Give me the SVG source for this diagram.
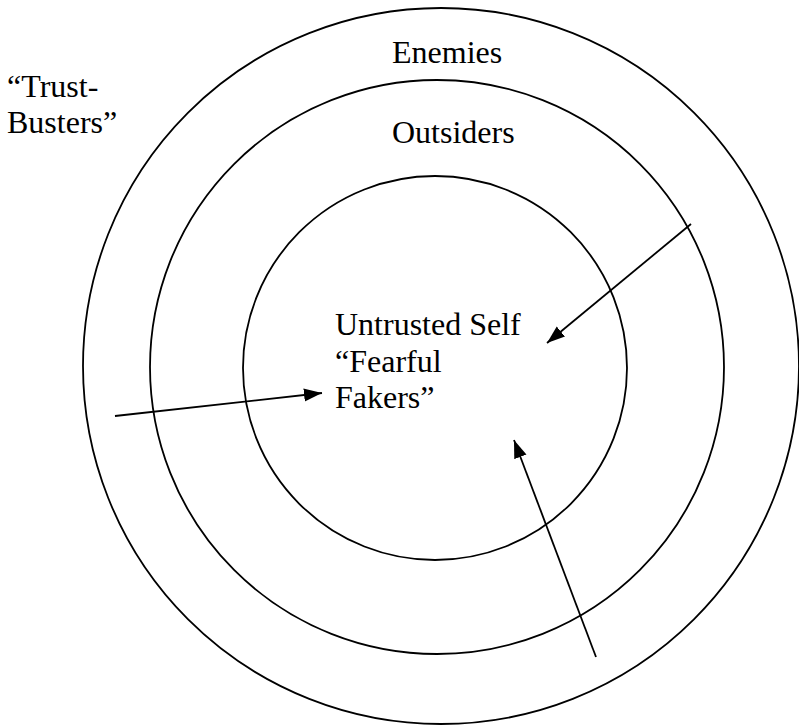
<svg xmlns="http://www.w3.org/2000/svg" width="799" height="727" viewBox="0 0 799 727">
<defs>
<style>
.ring{fill:none;stroke:#000;stroke-width:1.8}
.arrow{fill:none;stroke:#000;stroke-width:1.8;marker-end:url(#ah)}
text{font-family:"Liberation Serif","Times New Roman",serif;font-size:32px;fill:#000}
</style>
<marker id="ah" markerUnits="userSpaceOnUse" markerWidth="20" markerHeight="16" viewBox="0 0 20 16" refX="18" refY="8" orient="auto">
<path d="M0,1.5 L18,8 L0,14.5 Z" fill="#000"/>
</marker>
</defs>
<rect width="799" height="727" fill="#fff"/>
<g id="enemies">
<circle class="ring" cx="441" cy="366" r="358"/>
<text x="392" y="63">Enemies</text>
</g>
<g id="outsiders">
<circle class="ring" cx="437" cy="367" r="287"/>
<text x="392" y="143">Outsiders</text>
</g>
<g id="self">
<circle class="ring" cx="435" cy="368" r="192"/>
<text x="335" y="335">Untrusted Self</text>
<text x="335" y="372">“Fearful</text>
<text x="335" y="408">Fakers”</text>
</g>
<g id="trustbusters">
<text x="7" y="97">“Trust-</text>
<text x="7" y="133">Busters”</text>
</g>
<g id="connectors">
<line class="arrow" x1="115" y1="416" x2="322" y2="393"/>
<line class="arrow" x1="691" y1="224" x2="547" y2="343"/>
<line class="arrow" x1="596" y1="657" x2="514" y2="440"/>
</g>
</svg>
